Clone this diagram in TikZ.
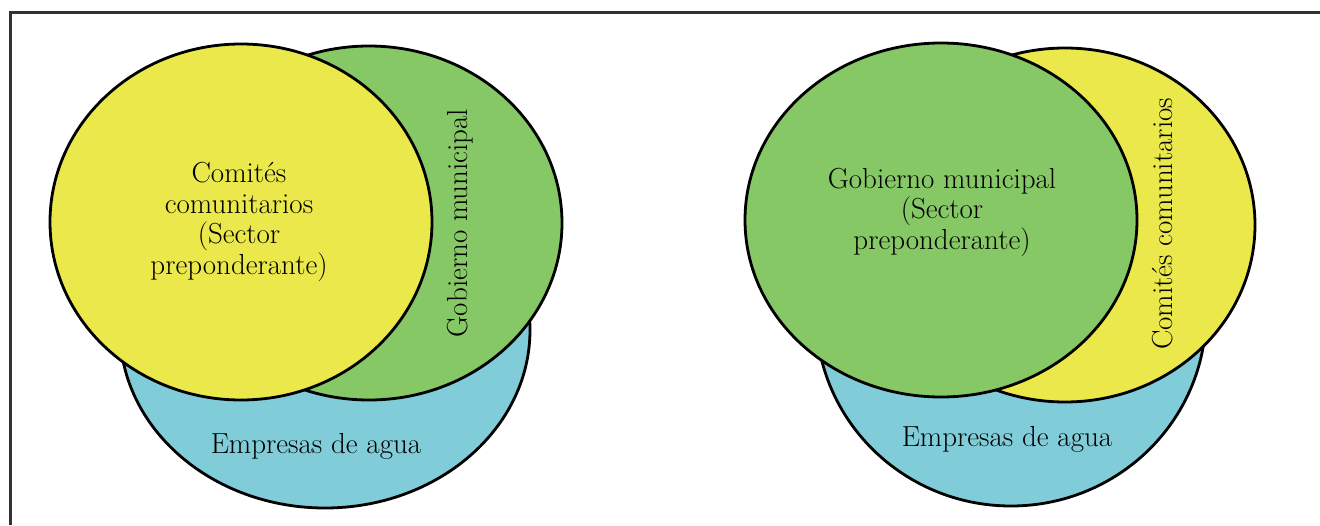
\documentclass[tikz,border=0pt]{standalone}
\usetikzlibrary{shapes.geometric}
\definecolor{vyellow}{RGB}{234,232,74}
\definecolor{vgreen}{RGB}{134,199,102}
\definecolor{vblue}{RGB}{128,204,216}
\definecolor{framegray}{RGB}{50,50,50}
\tikzset{
  setbox/.style={ellipse, draw=black, line width=2.8pt, inner sep=0pt},
  lbl/.style={font=\fontsize{29}{30.5}\selectfont, align=center, inner sep=0pt, text=black},
}
\begin{document}
\begin{tikzpicture}[x=1pt,y=-1pt]
\useasboundingbox (0,0) rectangle (1320,525);
\fill[white] (0,0) rectangle (1320,525);
\coordinate (fa) at (10,12);
\coordinate (fb) at (1320,12);
\coordinate (fc) at (10,525);
\draw[framegray, line width=3pt] (fc) -- (fa) -- (fb);
% left diagram
\node[setbox, fill=vblue, minimum width=410pt, minimum height=356pt] (lb) at (325,330) {};
\node[setbox, fill=vgreen, minimum width=386pt, minimum height=354pt] (lg) at (369,223) {};
\node[setbox, fill=vyellow, minimum width=382pt, minimum height=356pt] (ly) at (241,222) {};
\node[lbl] (lyt) at (239,222) {Comités\\comunitarios\\(Sector\\preponderante)};
\node[lbl, rotate=90] (lgt) at (460,223) {Gobierno municipal};
\node[lbl] (lbt) at (316,446) {Empresas de agua};
% right diagram
\node[setbox, fill=vblue, minimum width=390pt, minimum height=384pt] (rb) at (1011,314) {};
\node[setbox, fill=vyellow, minimum width=380pt, minimum height=354pt] (ry) at (1065,225) {};
\node[setbox, fill=vgreen, minimum width=392pt, minimum height=354pt] (rg) at (941,220) {};
\node[lbl] (rgt) at (942,212) {Gobierno municipal\\(Sector\\preponderante)};
\node[lbl, rotate=90] (ryt) at (1163,224) {Comités comunitarios};
\node[lbl] (rbt) at (1007,439) {Empresas de agua};
\end{tikzpicture}
\end{document}
